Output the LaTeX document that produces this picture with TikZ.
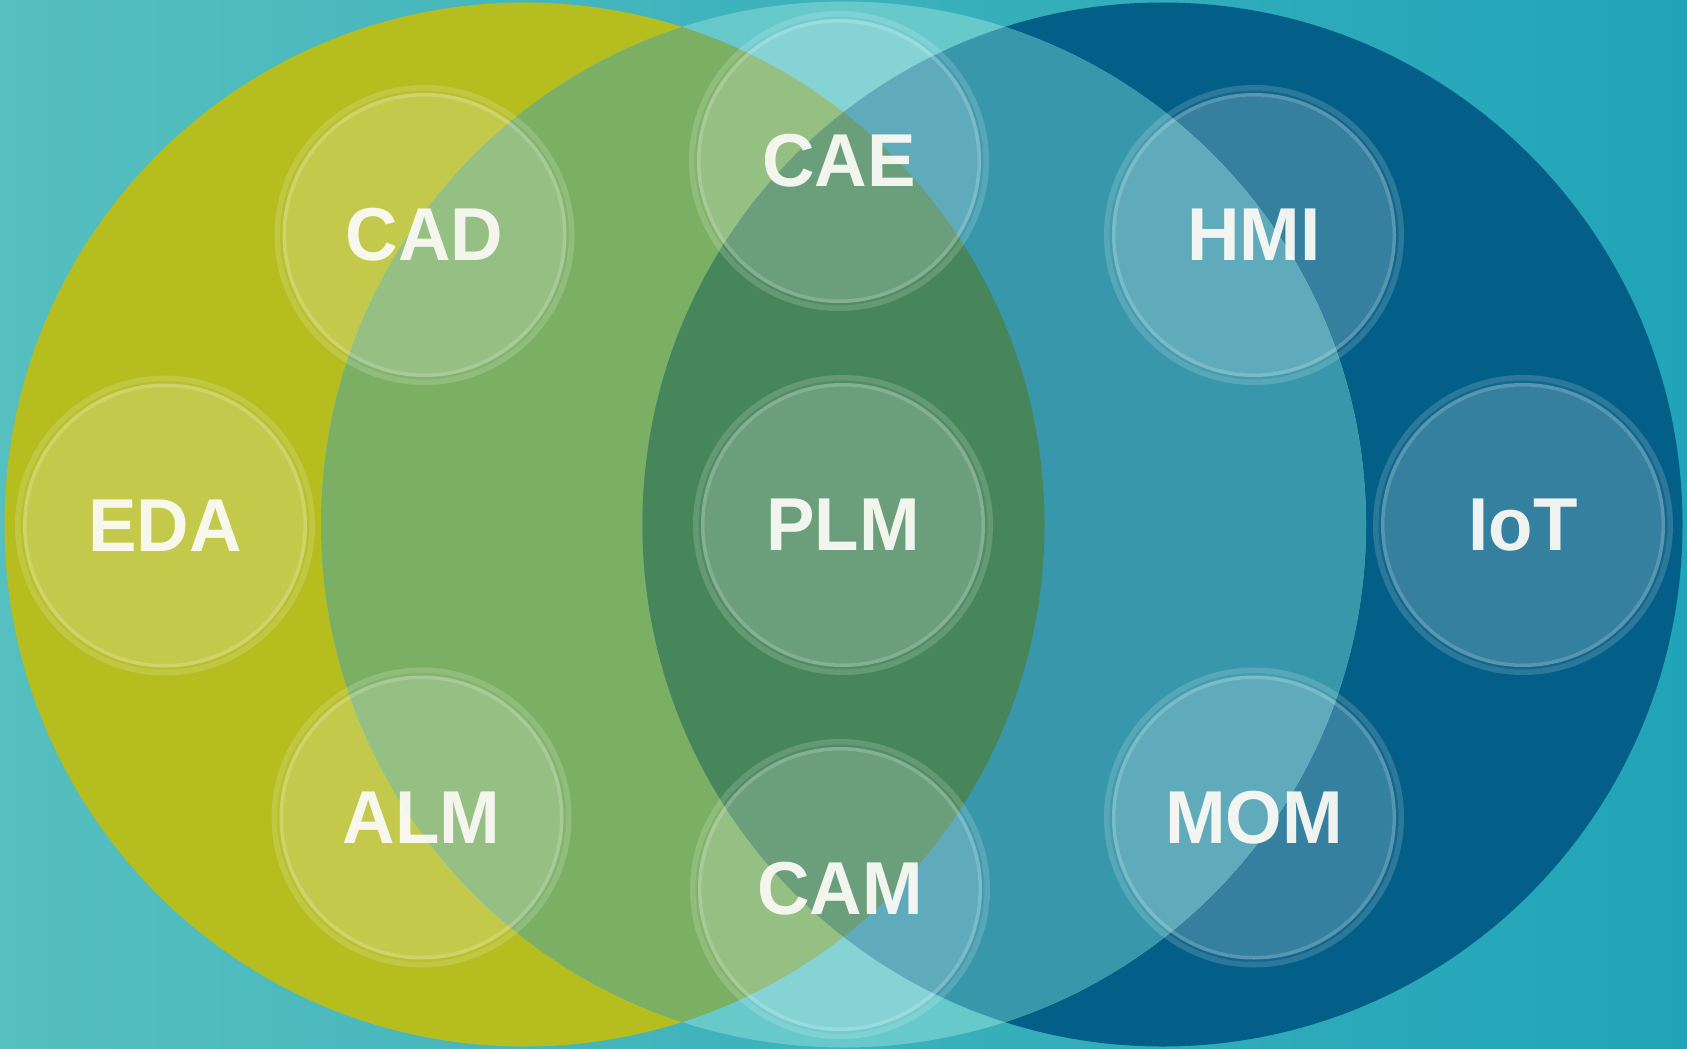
\documentclass[tikz,border=0pt]{standalone}
\usepackage{fontspec}
\setmainfont{Liberation Sans}
\newfontfamily\bubfont[FakeStretch=0.97]{Liberation Sans}
\definecolor{bgL}{HTML}{56BFBF}
\definecolor{bgM}{HTML}{29AAAD}
\definecolor{bgR}{HTML}{21A4B9}
\definecolor{cyel}{HTML}{B5BD1F}
\definecolor{cblue}{HTML}{035F87}
\definecolor{cmid}{HTML}{68C9CB}
\definecolor{cgreen}{HTML}{7BB064}
\definecolor{cdkgreen}{HTML}{47865A}
\definecolor{cteal}{HTML}{3897AB}
\definecolor{ctext}{HTML}{FAFAF4}
\tikzset{
  bubble/.style={circle, inner sep=0pt, minimum size=277pt, fill=white,
    fill opacity=0.2, text=ctext, text opacity=0.95,
    font=\bubfont\bfseries\fontsize{75}{75}\selectfont},
  yshape/.style={x radius=520pt, y radius=522pt},
  mshape/.style={x radius=522.5pt, y radius=523pt},
  rshape/.style={x radius=520pt, y radius=522pt}
}
\begin{document}
\begin{tikzpicture}[x=1pt,y=-1pt]
\useasboundingbox (0,0) rectangle (1687,1049);
\shade[left color=bgL, middle color=bgM, right color=bgR] (0,0) rectangle (1687,1049);
\coordinate (yc) at (524.5,524.5);
\coordinate (mc) at (843.5,524.5);
\coordinate (rc) at (1162.5,524.5);
% big circles
\fill[cyel] (yc) ellipse [yshape];
\fill[cblue] (rc) ellipse [rshape];
\fill[cmid] (mc) ellipse [mshape];
\begin{scope}
  \clip (mc) ellipse [mshape];
  \fill[cgreen] (yc) ellipse [yshape];
  \fill[cteal] (rc) ellipse [rshape];
  \clip (yc) ellipse [yshape];
  \fill[cdkgreen] (rc) ellipse [rshape];
\end{scope}
% bubbles
\node[bubble] (cad) at (424.5,235) {CAD};
\node[bubble] (cae) at (839,161) {CAE};
\node[bubble] (hmi) at (1254,235) {HMI};
\node[bubble] (eda) at (165,525.5) {EDA};
\node[bubble] (plm) at (843,525) {PLM};
\node[bubble] (iot) at (1523,525) {IoT};
\node[bubble] (alm) at (421.5,817.5) {ALM};
\node[bubble] (cam) at (840,889) {CAM};
\node[bubble] (mom) at (1254,817.5) {MOM};
\foreach \n in {cad,cae,hmi,eda,plm,iot,alm,cam,mom}{
  \fill[white, fill opacity=0.16, even odd rule] (\n.center) circle (150pt) circle (144.5pt);
  \fill[white, fill opacity=0.06, even odd rule] (\n.center) circle (144.5pt) circle (142pt);
  \fill[white, fill opacity=0.34, even odd rule] (\n.center) circle (142pt) circle (138.5pt);
}
\end{tikzpicture}
\end{document}
